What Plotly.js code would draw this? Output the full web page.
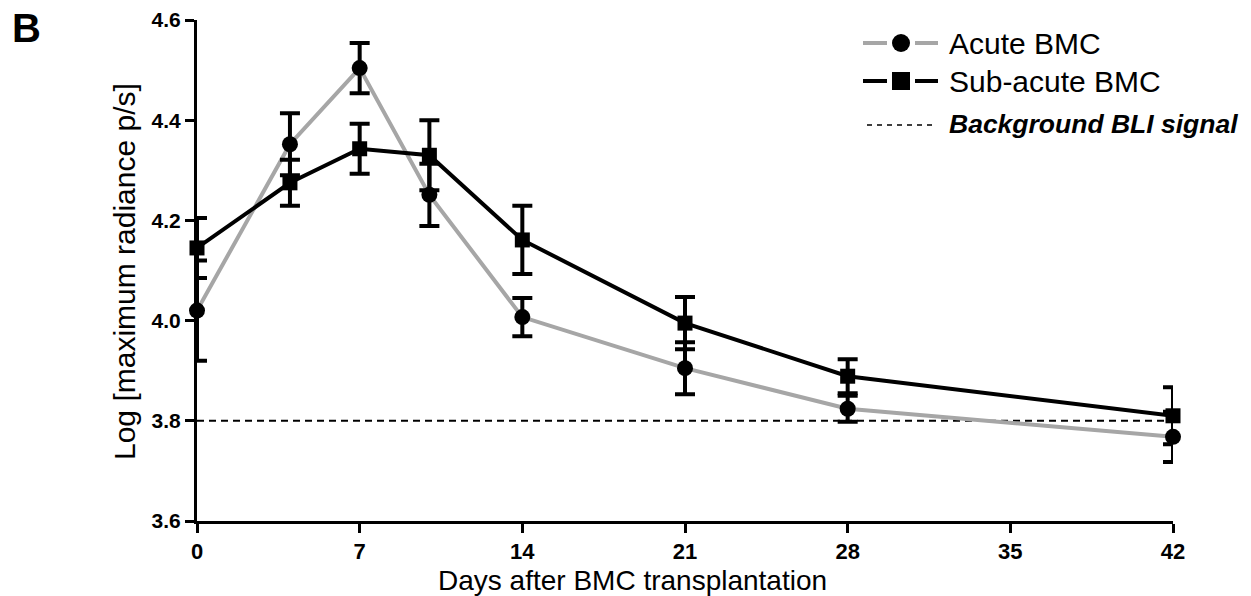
<!DOCTYPE html>
<html>
<head>
<meta charset="utf-8">
<script src="https://cdn.plot.ly/plotly-3.0.1.min.js"></script>
<style>html,body{margin:0;padding:0;background:#fff;}#chart{width:1251px;height:596px;}</style>
</head>
<body>
<div id="chart"></div>
<script>
// Data
const days = [0, 4, 7, 10, 14, 21, 28, 42];
const acuteMean = [4.02, 4.352, 4.504, 4.251, 4.007, 3.905, 3.824, 3.768];
const acuteSem  = [0.10, 0.062, 0.05, 0.062, 0.038, 0.052, 0.026, 0.05];
const subMean   = [4.145, 4.275, 4.343, 4.33, 4.161, 3.995, 3.889, 3.81];
const subSem    = [0.06, 0.046, 0.05, 0.07, 0.068, 0.052, 0.034, 0.057];
const backgroundX = [0, 42];
const backgroundY = [3.8, 3.8];
const xTicks = [0, 7, 14, 21, 28, 35, 42];
const yTicks = [3.6, 3.8, 4.0, 4.2, 4.4, 4.6];
const yTickText = ['3.6', '3.8', '4.0', '4.2', '4.4', '4.6'];
const seriesNames = ['Acute BMC', 'Sub-acute BMC', 'Background BLI signal'];

const FONT = 'Liberation Sans, Arial, Helvetica, sans-serif';
const GRAY = '#a6a6a6';

// plot area geometry (pixels)
const W = 1251, H = 596;
const M = {l: 197, r: 78, t: 20, b: 75};
const PW = W - M.l - M.r, PH = H - M.t - M.b;
const px = v => (v - M.l) / PW;          // pixel x -> paper x
const py = v => 1 - (v - M.t) / PH;      // pixel y -> paper y

const traces = [
  {
    x: backgroundX, y: backgroundY, type: 'scatter', mode: 'lines',
    name: seriesNames[2],
    line: {color: '#000', width: 2, dash: '7px,5px'},
    hoverinfo: 'skip', cliponaxis: false
  },
  {
    x: days, y: acuteMean, type: 'scatter', mode: 'lines+markers',
    name: seriesNames[0],
    line: {color: GRAY, width: 4},
    marker: {symbol: 'circle', size: 16, color: '#000'},
    error_y: {type: 'data', array: acuteSem, visible: true, color: '#000', thickness: 4, width: 10},
    cliponaxis: false
  },
  {
    x: days, y: subMean, type: 'scatter', mode: 'lines+markers',
    name: seriesNames[1],
    line: {color: '#000', width: 4},
    marker: {symbol: 'square', size: 15, color: '#000'},
    error_y: {type: 'data', array: subSem, visible: true, color: '#000', thickness: 4, width: 10},
    cliponaxis: false
  }
];

// Custom legend (symbol: line - marker - line, as in the reference)
const rows = [
  {yc: 43, color: GRAY, marker: 'circle'},
  {yc: 81, color: '#000', marker: 'rect'},
];
const shapes = [];
rows.forEach(r => {
  shapes.push({type: 'line', xref: 'paper', yref: 'paper', x0: px(863), x1: px(887), y0: py(r.yc), y1: py(r.yc), line: {color: r.color, width: 4}});
  shapes.push({type: 'line', xref: 'paper', yref: 'paper', x0: px(915), x1: px(938), y0: py(r.yc), y1: py(r.yc), line: {color: r.color, width: 4}});
  shapes.push({type: r.marker, xref: 'paper', yref: 'paper', x0: px(892), x1: px(910), y0: py(r.yc - 9), y1: py(r.yc + 9), fillcolor: '#000', line: {width: 0}});
});
shapes.push({type: 'line', xref: 'paper', yref: 'paper', x0: px(867), x1: px(933), y0: py(125), y1: py(125), line: {color: '#000', width: 1.5, dash: '5px,5px'}});

const legendText = [
  {t: seriesNames[0], yc: 43, size: 30},
  {t: seriesNames[1], yc: 81, size: 30},
  {t: '<b><i>' + seriesNames[2] + '</i></b>', yc: 124, size: 26.5}
];

const annotations = [
  {text: 'Days after BMC transplantation', xref: 'paper', yref: 'paper',
   x: px(632), y: py(580), xanchor: 'center', yanchor: 'middle',
   showarrow: false, font: {family: FONT, size: 28, color: '#000'}},
  {text: 'Log [maximum radiance p/s]', xref: 'paper', yref: 'paper',
   x: px(124), y: py(272), xanchor: 'center', yanchor: 'middle', textangle: -90,
   showarrow: false, font: {family: FONT, size: 30, color: '#000'}},
  {text: '<b>B</b>', xref: 'paper', yref: 'paper',
   x: px(26), y: py(28), xanchor: 'center', yanchor: 'middle',
   showarrow: false, font: {family: FONT, size: 40, color: '#000'}}
];
legendText.forEach(l => annotations.push({
  text: l.t, xref: 'paper', yref: 'paper', x: px(947), y: py(l.yc),
  xanchor: 'left', yanchor: 'middle', showarrow: false,
  font: {family: FONT, size: l.size, color: '#000'}
}));

const layout = {
  width: W, height: H,
  margin: {l: M.l, r: M.r, t: M.t, b: M.b, pad: 0},
  paper_bgcolor: '#fff', plot_bgcolor: '#fff',
  font: {family: FONT, color: '#000'},
  showlegend: false,
  xaxis: {
    range: [0, 42], tickvals: xTicks, ticktext: xTicks.map(String),
    showline: true, linecolor: '#000', linewidth: 3,
    ticks: 'outside', ticklen: 9, tickwidth: 3, tickcolor: '#000',
    showgrid: false, zeroline: false,
    tickfont: {family: FONT, size: 22, weight: 'bold', color: '#000'}
  },
  yaxis: {
    range: [3.6, 4.6], tickvals: yTicks, ticktext: yTickText,
    showline: true, linecolor: '#000', linewidth: 3,
    ticks: 'outside', ticklen: 9, tickwidth: 3, tickcolor: '#000',
    showgrid: false, zeroline: false,
    tickfont: {family: FONT, size: 21, weight: 'bold', color: '#000'}
  },
  shapes: shapes,
  annotations: annotations
};

Plotly.newPlot('chart', traces, layout, {displayModeBar: false, staticPlot: true});
</script>
</body>
</html>
